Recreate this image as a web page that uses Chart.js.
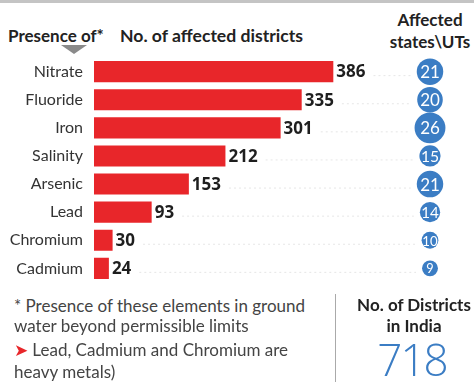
<!DOCTYPE html>
<html>
<head>
<meta charset="utf-8">
<script src="https://cdn.jsdelivr.net/npm/chart.js@4"></script>
<style>
  html, body { margin: 0; padding: 0; background: #fff; }
  #page { position: relative; width: 474px; height: 382px; overflow: hidden; background: #fff;
          font-family: Lato, sans-serif; color: #333; }
  #topline { position: absolute; left: 0; top: 0; width: 474px; height: 3px; background: #c4c4c4; }
  .hd { position: absolute; font-family: Lato, sans-serif;
        font-weight: bold; font-size: 17px; color: #222; white-space: nowrap; }
  #tri { position: absolute; left: 61px; top: 45px; width: 0; height: 0;
         border-left: 13px solid transparent; border-right: 13px solid transparent; border-top: 9px solid #8a8a8a; }
  #chartBox { position: absolute; left: 0; top: 45px; width: 474px; height: 250px; }
  .note { position: absolute; left: 14px; font-size: 17px; color: #444; white-space: nowrap; }
  #divider { position: absolute; left: 335px; top: 294px; width: 1px; height: 88px; background: #aaa; }
  #total { position: absolute; left: 352px; top: 337px; width: 120px; text-align: center;
           font-family: "Open Sans", sans-serif; font-size: 44px; font-weight: 300; letter-spacing: -2px;
           color: #3b7dc4; line-height: 44px; }
</style>
</head>
<body>
<div id="page">
  <div id="topline"></div>
  <div class="hd" style="left:8px; top:25px;">Presence of*</div>
  <div class="hd" style="left:120px; top:25px; font-size:17.6px;">No. of affected districts</div>
  <div class="hd" style="left:380px; top:9px; width:100px; text-align:center; line-height:22px;">Affected<br>states\UTs</div>
  <div id="tri"></div>
  <div id="chartBox"><canvas id="waterChart"></canvas></div>
  <div class="note" style="top:295px;">* Presence of these elements in ground</div>
  <div class="note" style="top:315px;">water beyond permissible limits</div>
  <div class="note" style="top:339px;"><span style="color:#e8262a;">&#10148;</span> Lead, Cadmium and Chromium are</div>
  <div class="note" style="top:361px;">heavy metals)</div>
  <div id="divider"></div>
  <div class="hd" style="left:354px; top:294px; width:120px; text-align:center; line-height:21px;">No. of Districts<br>in India</div>
  <div id="total">718</div>
</div>

<script>
//Elements found in ground water beyond permissible limits
var elements = ["Nitrate", "Fluoride", "Iron", "Salinity", "Arsenic", "Lead", "Chromium", "Cadmium"];
//No. of affected districts
var districts = [386, 335, 301, 212, 153, 93, 30, 24];
//Affected states\UTs
var states = [21, 20, 26, 15, 21, 14, 10, 9];

//Draws the district numbers, faint leader dots and the blue state bubbles
var rowExtras = {
  id: 'rowExtras',
  afterDatasetsDraw: function(chart) {
    var ctx = chart.ctx;
    var bars = chart.getDatasetMeta(0).data;
    var circleX = 430;
    ctx.save();
    bars.forEach(function(bar, i) {
      var label = String(districts[i]);
      ctx.font = 'bold 17px "Open Sans", sans-serif';
      ctx.fillStyle = '#1e1e1e';
      ctx.textAlign = 'left';
      ctx.textBaseline = 'middle';
      ctx.fillText(label, bar.x + 3, bar.y + 1);
      var textEnd = bar.x + 3 + ctx.measureText(label).width;

      //bubble grows with the number of states
      var r = 4 + 0.44 * states[i];

      //faint dotted leader
      ctx.strokeStyle = '#e6e6e6';
      ctx.lineWidth = 1;
      ctx.setLineDash([2, 3]);
      ctx.beginPath();
      ctx.moveTo(textEnd + 8, bar.y + 4);
      ctx.lineTo(circleX - r - 6, bar.y + 4);
      ctx.stroke();
      ctx.setLineDash([]);

      ctx.fillStyle = '#3b7dc4';
      ctx.beginPath();
      ctx.arc(circleX, bar.y, r, 0, Math.PI * 2);
      ctx.fill();
      ctx.fillStyle = '#fff';
      ctx.textAlign = 'center';
      var fs = Math.min(17, r * 1.1 + 4);
      ctx.font = fs + 'px Lato, sans-serif';
      ctx.fillText(String(states[i]), circleX, bar.y + 1, 2 * r - 1);
    });
    ctx.restore();
  }
};

var waterChart = new Chart(document.getElementById("waterChart"), {
  type: 'bar',
  data: {
    labels: elements,
    datasets: [{
      label: 'No. of affected districts',
      data: districts,
      backgroundColor: '#e8262a',
      borderWidth: 0,
      categoryPercentage: 1.0,
      barPercentage: 0.75
    }]
  },
  options: {
    indexAxis: 'y',
    responsive: true,
    maintainAspectRatio: false,
    animation: false,
    layout: { padding: { left: 0, right: 8, top: 0, bottom: 0 } },
    plugins: {
      legend: { display: false },
      tooltip: { enabled: false }
    },
    scales: {
      x: {
        display: false,
        min: 0,
        max: 600
      },
      y: {
        afterFit: function(scale) { scale.width = 94; },
        grid: { display: false },
        border: { display: false },
        ticks: {
          padding: 3,
          color: '#333',
          font: { family: 'Lato, sans-serif', size: 16 }
        }
      }
    }
  },
  plugins: [rowExtras]
});
</script>
</body>
</html>
